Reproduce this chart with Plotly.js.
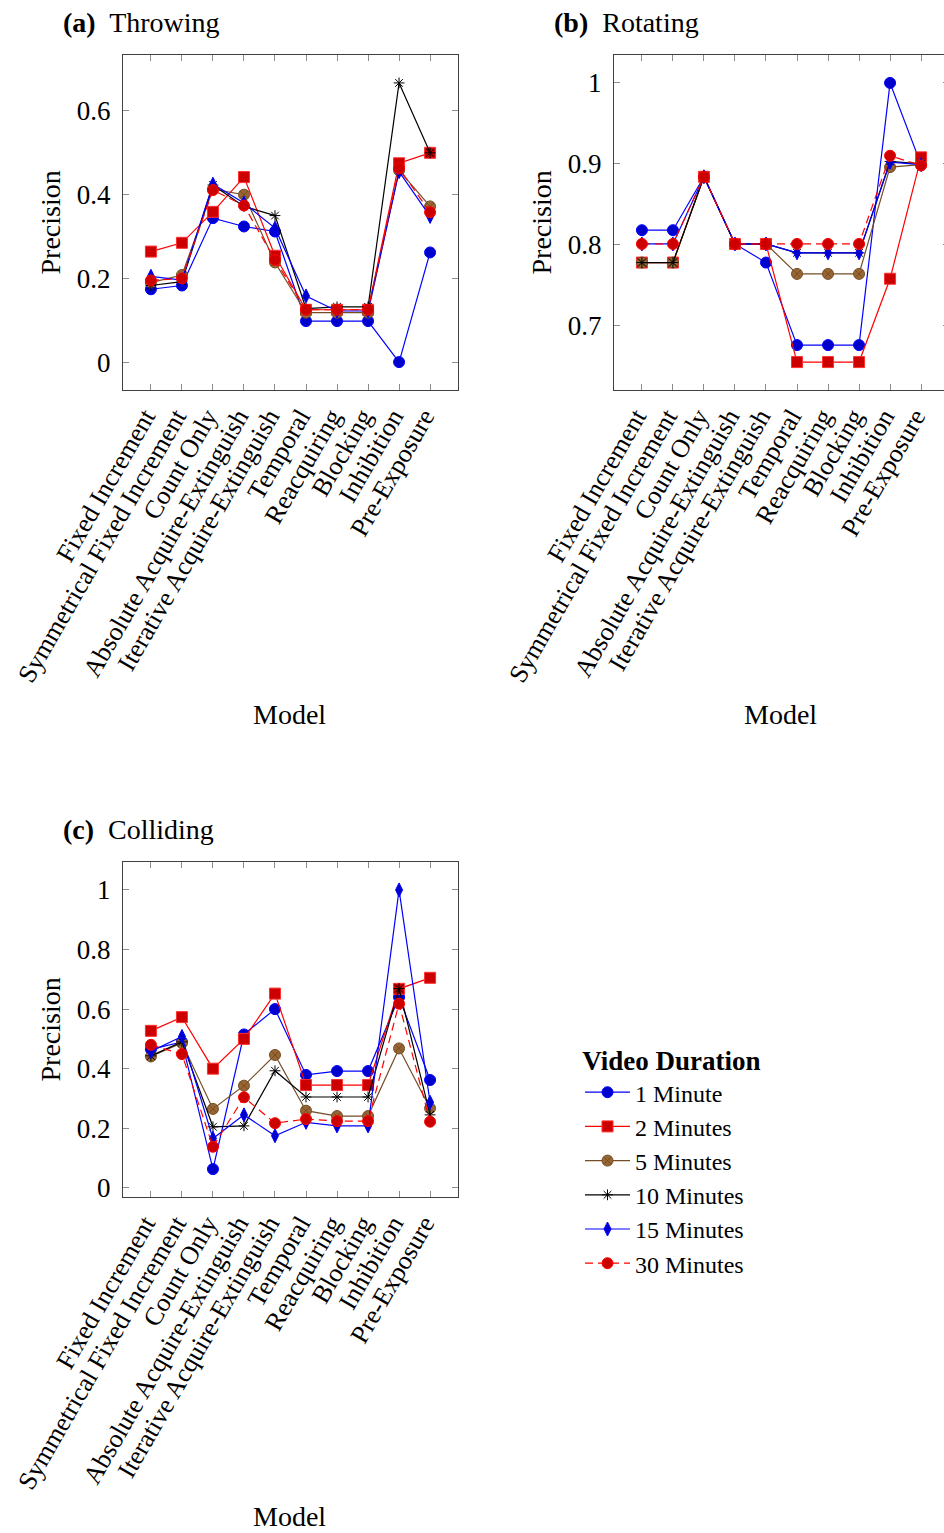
<!DOCTYPE html>
<html><head><meta charset="utf-8">
<script src="https://cdn.plot.ly/plotly-3.0.1.min.js"></script>
<style>html,body{margin:0;padding:0;overflow:hidden;background:#fff}#chart{width:950px;height:1533px}</style>
</head><body><div id="chart"></div>
<script>
// ---------------- DATA ----------------
const categories = ["Fixed Increment","Symmetrical Fixed Increment","Count Only","Absolute Acquire-Extinguish","Iterative Acquire-Extinguish","Temporal","Reacquiring","Blocking","Inhibition","Pre-Exposure"];
const seriesNames = ["1 Minute","2 Minutes","5 Minutes","10 Minutes","15 Minutes","30 Minutes"];
const panelTitles = ["(a)","(b)","(c)"];
const panelNames = ["Throwing","Rotating","Colliding"];

const throwing_1 = [0.174,0.183,0.344,0.324,0.312,0.098,0.098,0.098,0.0,0.262];
const throwing_2 = [0.264,0.285,0.359,0.442,0.254,0.125,0.125,0.125,0.475,0.5];
const throwing_5 = [0.19,0.208,0.413,0.40,0.238,0.118,0.118,0.118,0.458,0.372];
const throwing_10 = [0.183,0.192,0.423,0.372,0.35,0.128,0.132,0.132,0.667,0.5];
const throwing_15 = [0.205,0.196,0.425,0.38,0.32,0.158,0.122,0.122,0.455,0.348];
const throwing_30 = [0.195,0.2,0.411,0.374,0.244,0.125,0.125,0.125,0.463,0.358];

const rotating_1 = [0.818,0.818,0.884,0.801,0.778,0.676,0.676,0.676,1.0,0.899];
const rotating_2 = [0.778,0.778,0.884,0.801,0.801,0.655,0.655,0.655,0.758,0.908];
const rotating_5 = [0.778,0.778,0.884,0.801,0.801,0.764,0.764,0.764,0.896,0.899];
const rotating_10 = [0.778,0.778,0.884,0.801,0.801,0.79,0.79,0.79,0.903,0.9];
const rotating_15 = [0.801,0.801,0.884,0.801,0.801,0.79,0.79,0.79,0.902,0.899];
const rotating_30 = [0.801,0.801,0.884,0.801,0.801,0.801,0.801,0.801,0.91,0.898];

const colliding_1 = [0.465,0.49,0.063,0.515,0.6,0.379,0.392,0.392,0.64,0.362];
const colliding_2 = [0.527,0.573,0.4,0.5,0.652,0.345,0.345,0.345,0.668,0.705];
const colliding_5 = [0.441,0.486,0.265,0.343,0.446,0.259,0.241,0.241,0.468,0.267];
const colliding_10 = [0.443,0.49,0.205,0.208,0.393,0.305,0.305,0.305,0.669,0.245];
const colliding_15 = [0.458,0.508,0.166,0.245,0.175,0.22,0.208,0.208,1.0,0.287];
const colliding_30 = [0.48,0.449,0.138,0.304,0.217,0.231,0.224,0.224,0.618,0.222];

const panels = [
  [throwing_1,throwing_2,throwing_5,throwing_10,throwing_15,throwing_30],
  [rotating_1,rotating_2,rotating_5,rotating_10,rotating_15,rotating_30],
  [colliding_1,colliding_2,colliding_5,colliding_10,colliding_15,colliding_30]
];

// ---------------- STYLE ----------------
const W = 950, H = 1533;
const px = x => x / W;
const py = y => 1 - y / H;
const FONT = '"Liberation Serif", "Times New Roman", "DejaVu Serif", serif';

const styles = [
  {line:{color:"#0000ff",width:1.2},marker:{symbol:"circle",size:11,color:"#0000cc",line:{color:"#0000ff",width:1}}},
  {line:{color:"#ff0000",width:1.2},marker:{symbol:"square",size:11,color:"#cc0000",line:{color:"#ff3030",width:1}}},
  {line:{color:"#734d26",width:1.2},marker:{symbol:"circle-x",size:11,color:"#996633",line:{color:"#734d26",width:1}}},
  {line:{color:"#000000",width:1.2},marker:{symbol:"asterisk-open",size:9,color:"#000000",line:{color:"#000000",width:1}}},
  {line:{color:"#0000ff",width:1.2},marker:{symbol:"diamond-tall",size:10,color:"#0000cc",line:{color:"#0000ff",width:1}}},
  {line:{color:"#ff0000",width:1.2,dash:"8px,5px"},marker:{symbol:"circle",size:11,color:"#cc0000",line:{color:"#ff0000",width:1}}}
];

// panel boxes in pixels [left, right, top, bottom]
const boxes = [[123,458,55,390],[614,949,55,390],[123,458,862,1197]];
const modelLabelY = [714, 714, 1516];

const traces = [];
panels.forEach((series, p) => {
  const xa = p === 0 ? "x" : "x" + (p + 1);
  const ya = p === 0 ? "y" : "y" + (p + 1);
  series.forEach((vals, s) => {
    traces.push({
      type: "scatter", mode: "lines+markers",
      x: categories, y: vals, name: seriesNames[s],
      legendgroup: seriesNames[s], showlegend: p === 0,
      xaxis: xa, yaxis: ya,
      line: styles[s].line, marker: styles[s].marker,
      cliponaxis: false
    });
  });
});

const layout = {
  width: W, height: H,
  margin: {l:0,r:0,t:0,b:0},
  paper_bgcolor: "#fff", plot_bgcolor: "#fff",
  font: {family: FONT, size: 25, color: "#000"},
  showlegend: true,
  legend: {
    x: px(580), y: py(1035), xanchor: "left", yanchor: "top",
    font: {family: FONT, size: 24, color: "#000"},
    title: {text: "<b>Video Duration</b>", side: "top center", font: {family: FONT, size: 27}},
    itemwidth: 45, bgcolor: "rgba(0,0,0,0)", borderwidth: 0, tracegroupgap: 0
  },
  annotations: []
};

boxes.forEach((b, p) => {
  const sfx = p === 0 ? "" : String(p + 1);
  const all = [].concat(...panels[p]);
  const mn = Math.min(...all), mx = Math.max(...all), pad = (mx - mn) * 0.1;
  const isRot = p === 1;
  layout["xaxis" + sfx] = {
    domain: [px(b[0]), px(b[1])], anchor: "y" + sfx,
    type: "category", range: [-0.9, 9.9],
    showline: true, linecolor: "#404040", linewidth: 1, mirror: "ticks",
    ticks: "inside", ticklen: 6, tickcolor: "#8c8c8c", tickwidth: 1,
    showgrid: false, zeroline: false, tickangle: -60, ticklabelshift: -6,
    tickfont: {family: FONT, size: 26, color: "#000"}
  };
  layout["yaxis" + sfx] = {
    domain: [py(b[3]), py(b[2])], anchor: "x" + sfx,
    range: [mn - pad, mx + pad],
    tick0: 0, dtick: isRot ? 0.1 : 0.2,
    showline: true, linecolor: "#404040", linewidth: 1, mirror: "ticks",
    ticks: "inside", ticklen: 6, tickcolor: "#8c8c8c", tickwidth: 1,
    showgrid: false, zeroline: false, ticklabelstandoff: 6,
    tickfont: {family: FONT, size: 27, color: "#000"}
  };
  const titleX = b[0] - 62, titleY = b[2] - 33;
  layout.annotations.push({
    xref: "paper", yref: "paper", x: px(titleX), y: py(titleY),
    xanchor: "left", yanchor: "middle", showarrow: false,
    text: "<b>" + panelTitles[p] + "</b>  " + panelNames[p],
    font: {family: FONT, size: 28, color: "#000"}
  });
  layout.annotations.push({
    xref: "paper", yref: "paper", x: px(b[0] - 73), y: py((b[2] + b[3]) / 2),
    xanchor: "center", yanchor: "middle", showarrow: false, textangle: -90,
    text: "Precision", font: {family: FONT, size: 28, color: "#000"}
  });
  layout.annotations.push({
    xref: "paper", yref: "paper", x: px((b[0] + b[1]) / 2 - 1), y: py(modelLabelY[p]),
    xanchor: "center", yanchor: "middle", showarrow: false,
    text: "Model", font: {family: FONT, size: 28, color: "#000"}
  });
});

Plotly.newPlot("chart", traces, layout, {displayModeBar: false, staticPlot: true});
</script>
</body></html>
